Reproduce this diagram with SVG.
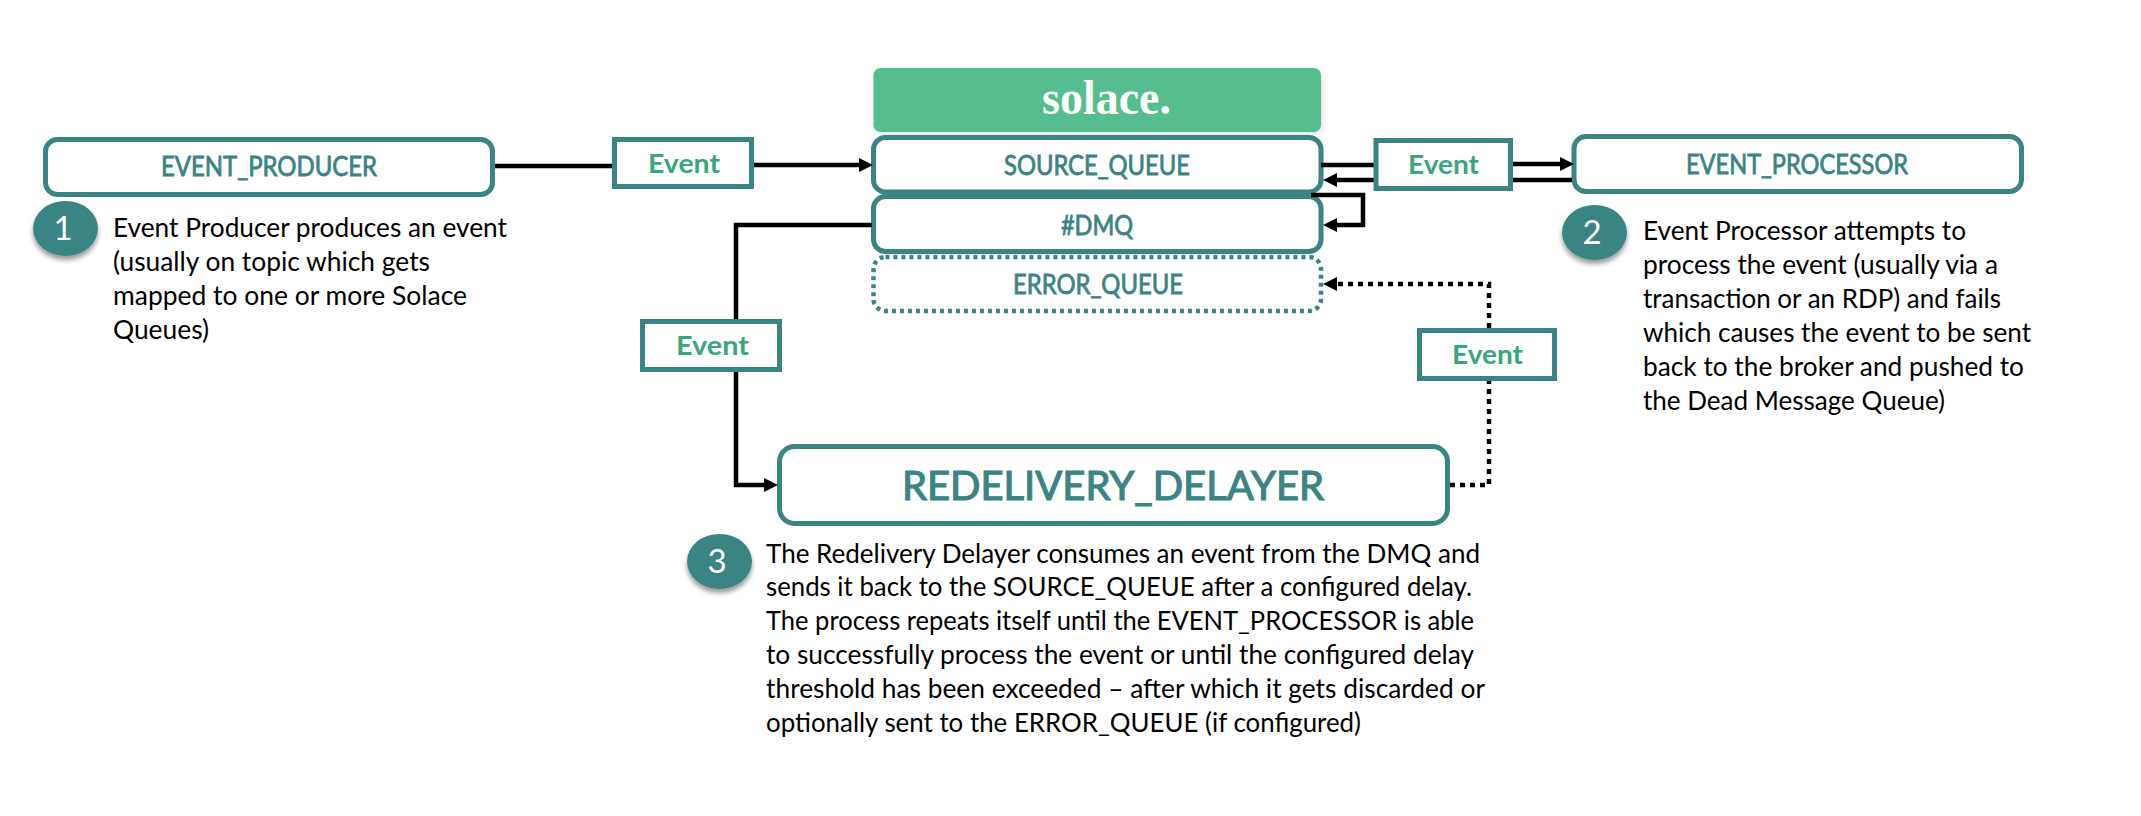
<svg xmlns="http://www.w3.org/2000/svg" width="2141" height="816" viewBox="0 0 2141 816">
<style>
text{font-family:"Lato","Liberation Sans",sans-serif}
.box{fill:#fff;stroke:#3b8484;stroke-width:5}
.ev{fill:#fff;stroke:#3b8484;stroke-width:5}
.lbl{fill:#3b8484;font-size:26px;stroke:#3b8484;stroke-width:.8;text-anchor:start}
.evt{fill:#3ba57d;font-size:27px;font-weight:700}
.body{fill:#000;font-size:26.5px}
.num{fill:#fff;font-size:33px;text-anchor:middle}
.c{fill:none;stroke:#000;stroke-width:4.5}
.d{fill:none;stroke:#000;stroke-width:4.5;stroke-dasharray:5 5}
.dot{fill:#54bd8e}
.ci{fill:#3b8484}
</style>
<defs>
<filter id="sh" x="-30%" y="-30%" width="160%" height="170%"><feDropShadow dx="0" dy="4" stdDeviation="2.5" flood-color="#000" flood-opacity=".4"/></filter>
<filter id="sh2" x="-5%" y="-10%" width="110%" height="125%"><feDropShadow dx="2" dy="2" stdDeviation="3" flood-color="#000" flood-opacity=".12"/></filter>
<marker id="arr" markerUnits="userSpaceOnUse" markerWidth="15" markerHeight="15" viewBox="0 0 15 15" refX="6" refY="7.5" orient="auto"><path d="M0 0.5L14 7.5L0 14.5Z" fill="#000"/></marker>
</defs>

<g id="solace">
<rect x="873.5" y="68" width="447.5" height="64" rx="7" class="dot" filter="url(#sh2)"/>
<text x="1042" y="114" font-size="48" font-weight="700" fill="#fff" style="font-family:'Liberation Serif',serif" textLength="129" lengthAdjust="spacingAndGlyphs">solace.</text>
</g>

<g id="event-producer">
<rect x="45.5" y="139.5" width="447" height="55" rx="12" class="box"/>
<text x="161" y="176" class="lbl" textLength="216" lengthAdjust="spacingAndGlyphs">EVENT_PRODUCER</text>
</g>
<g id="source-queue">
<rect x="873.5" y="137.5" width="447.5" height="54.5" rx="12" class="box"/>
<text x="1004" y="175" class="lbl" textLength="186" lengthAdjust="spacingAndGlyphs">SOURCE_QUEUE</text>
</g>
<g id="dmq">
<rect x="873.5" y="196.5" width="447.5" height="55" rx="12" class="box"/>
<text x="1061" y="235" class="lbl" textLength="72" lengthAdjust="spacingAndGlyphs">#DMQ</text>
</g>
<g id="error-queue">
<rect x="873.5" y="257" width="447.5" height="54" rx="12" fill="#fff" stroke="#3b8484" stroke-width="4.5" stroke-dasharray="4 4"/>
<text x="1013" y="294" class="lbl" textLength="170" lengthAdjust="spacingAndGlyphs">ERROR_QUEUE</text>
</g>
<g id="event-processor">
<rect x="1574" y="136.5" width="447.5" height="55" rx="12" class="box"/>
<text x="1686" y="174" class="lbl" textLength="222" lengthAdjust="spacingAndGlyphs">EVENT_PROCESSOR</text>
</g>
<g id="redelivery-delayer">
<rect x="779.5" y="446.5" width="668" height="77" rx="15" class="box"/>
<text x="902" y="500" class="lbl" style="font-size:40px;stroke-width:1.2" textLength="422" lengthAdjust="spacingAndGlyphs">REDELIVERY_DELAYER</text>
</g>

<g id="connectors">
<path class="c" d="M495 166H612"/>
<path class="c" d="M754 165H865" marker-end="url(#arr)"/>
<path class="c" d="M1321 165H1374"/>
<path class="c" d="M1374 180H1331" marker-end="url(#arr)"/>
<path class="c" d="M1513 164H1566" marker-end="url(#arr)"/>
<path class="c" d="M1513 180H1572"/>
<path class="c" d="M1311 195H1363V225H1331" marker-end="url(#arr)"/>
<path class="c" d="M872 225H736V319"/>
<path class="c" d="M736 372V485H770" marker-end="url(#arr)"/>
<path class="d" d="M1450 485H1489V381"/>
<path class="d" d="M1489 328V284H1331" marker-end="url(#arr)"/>
</g>

<g id="event-1">
<rect x="614.5" y="139.5" width="137" height="47" class="ev"/>
<text x="648" y="173" class="evt" textLength="72" lengthAdjust="spacingAndGlyphs">Event</text>
</g>
<g id="event-2">
<rect x="1376" y="140.5" width="134.5" height="48" class="ev"/>
<text x="1408" y="173.5" class="evt" textLength="71" lengthAdjust="spacingAndGlyphs">Event</text>
</g>
<g id="event-3">
<rect x="642.5" y="321.5" width="137" height="48" class="ev"/>
<text x="676" y="355" class="evt" textLength="73" lengthAdjust="spacingAndGlyphs">Event</text>
</g>
<g id="event-4">
<rect x="1419.5" y="330.5" width="135" height="48" class="ev"/>
<text x="1452" y="364" class="evt" textLength="71" lengthAdjust="spacingAndGlyphs">Event</text>
</g>

<g id="step-1">
<ellipse cx="65.5" cy="228.5" rx="32.5" ry="27.5" class="ci" filter="url(#sh)"/>
<text x="63" y="240" class="num">1</text>
<text x="113" y="237" class="body" textLength="394" lengthAdjust="spacingAndGlyphs">Event Producer produces an event</text>
<text x="113" y="271" class="body" textLength="317" lengthAdjust="spacingAndGlyphs">(usually on topic which gets</text>
<text x="113" y="305" class="body" textLength="354" lengthAdjust="spacingAndGlyphs">mapped to one or more Solace</text>
<text x="113" y="339" class="body" textLength="96" lengthAdjust="spacingAndGlyphs">Queues)</text>
</g>
<g id="step-2">
<ellipse cx="1594.5" cy="232.5" rx="32.5" ry="27.5" class="ci" filter="url(#sh)"/>
<text x="1592" y="244" class="num">2</text>
<text x="1643" y="240" class="body" textLength="323" lengthAdjust="spacingAndGlyphs">Event Processor attempts to</text>
<text x="1643" y="274" class="body" textLength="355" lengthAdjust="spacingAndGlyphs">process the event (usually via a</text>
<text x="1643" y="308" class="body" textLength="358" lengthAdjust="spacingAndGlyphs">transaction or an RDP) and fails</text>
<text x="1643" y="342" class="body" textLength="388" lengthAdjust="spacingAndGlyphs">which causes the event to be sent</text>
<text x="1643" y="376" class="body" textLength="381" lengthAdjust="spacingAndGlyphs">back to the broker and pushed to</text>
<text x="1643" y="410" class="body" textLength="302" lengthAdjust="spacingAndGlyphs">the Dead Message Queue)</text>
</g>
<g id="step-3">
<ellipse cx="719.5" cy="561.5" rx="32.5" ry="27.5" class="ci" filter="url(#sh)"/>
<text x="717" y="573" class="num">3</text>
<text x="766" y="563" class="body" textLength="714" lengthAdjust="spacingAndGlyphs">The Redelivery Delayer consumes an event from the DMQ and</text>
<text x="766" y="596" class="body" textLength="706" lengthAdjust="spacingAndGlyphs">sends it back to the SOURCE_QUEUE after a configured delay.</text>
<text x="766" y="630" class="body" textLength="708" lengthAdjust="spacingAndGlyphs">The process repeats itself until the EVENT_PROCESSOR is able</text>
<text x="766" y="664" class="body" textLength="708" lengthAdjust="spacingAndGlyphs">to successfully process the event or until the configured delay</text>
<text x="766" y="698" class="body" textLength="719" lengthAdjust="spacingAndGlyphs">threshold has been exceeded – after which it gets discarded or</text>
<text x="766" y="732" class="body" textLength="595" lengthAdjust="spacingAndGlyphs">optionally sent to the ERROR_QUEUE (if configured)</text>
</g>
</svg>
